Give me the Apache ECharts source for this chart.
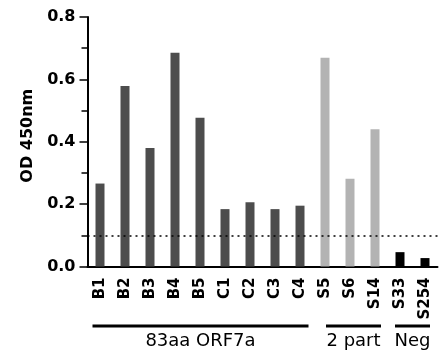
<!DOCTYPE html>
<html>
<head>
<meta charset="utf-8">
<script src="https://cdn.jsdelivr.net/npm/echarts@6/dist/echarts.min.js"></script>
<style>
  html, body { margin: 0; padding: 0; background: #fff; }
  #chart { width: 443px; height: 358px; }
</style>
</head>
<body>
<div id="chart"></div>
<script>
// samples on the x axis
const categories = ["B1", "B2", "B3", "B4", "B5", "C1", "C2", "C3", "C4", "S5", "S6", "S14", "S33", "S254"];
// OD 450nm
const odValues = [0.266, 0.579, 0.380, 0.685, 0.477, 0.184, 0.206, 0.184, 0.195, 0.669, 0.281, 0.440, 0.046, 0.027];
// which group each sample belongs to (0 = 83aa ORF7a, 1 = 2 part, 2 = Neg)
const sampleGroup = [0, 0, 0, 0, 0, 0, 0, 0, 0, 1, 1, 1, 2, 2];
const groupLabels = ["83aa ORF7a", "2 part", "Neg"];
const yTicks = [0, 0.2, 0.4, 0.6, 0.8];
const cutoff = 0.1;

const groupColors = ["#4d4d4d", "#b3b3b3", "#000000"];
const fontName = "DejaVu Sans";

const chart = echarts.init(document.getElementById("chart"));

const option = {
  animation: false,
  grid: { left: 87.5, right: 5.5, top: 17, bottom: 91.5, containLabel: false },
  xAxis: {
    type: "category",
    data: categories,
    axisLine: { lineStyle: { color: "#000", width: 2 } },
    axisTick: { alignWithLabel: true, length: 5, lineStyle: { color: "#000", width: 1.5 } },
    axisLabel: {
      rotate: 90,
      interval: 0,
      margin: 11,
      color: "#000",
      fontFamily: fontName,
      fontWeight: "bold",
      fontSize: 15,
    },
  },
  yAxis: {
    type: "value",
    min: yTicks[0],
    max: yTicks[yTicks.length - 1],
    interval: 0.2,
    name: "OD 450nm",
    nameLocation: "middle",
    nameGap: 52,
    nameTextStyle: { color: "#000", fontFamily: fontName, fontWeight: "bold", fontSize: 16, padding: [0, 0, 0, 12] },
    axisLine: { show: true, lineStyle: { color: "#000", width: 2 } },
    axisTick: { show: true, length: 8, lineStyle: { color: "#000", width: 1.5 } },
    minorTick: { show: true, splitNumber: 2, length: 6, lineStyle: { color: "#000", width: 1.5 } },
    splitLine: { show: false },
    axisLabel: {
      margin: 12,
      color: "#000",
      fontFamily: fontName,
      fontWeight: "bold",
      fontSize: 16,
      formatter: (v) => v.toFixed(1),
    },
  },
  series: [
    {
      type: "bar",
      barWidth: 9,
      data: odValues.map((v, i) => ({ value: v, itemStyle: { color: groupColors[sampleGroup[i]] } })),
      markLine: {
        silent: true,
        symbol: "none",
        label: { show: false },
        lineStyle: { color: "#000", type: [2, 4], width: 1.5 },
        data: [{ yAxis: cutoff }],
      },
    },
  ],
};

chart.setOption(option);

// group bars and labels under the axis, placed from the category scale
const groupPad = [[-7.5, 8.5], [1, 6], [-5, 5]];
const lineY = 326;
const textY = 341;
const graphic = [];
groupLabels.forEach((label, g) => {
  const first = sampleGroup.indexOf(g);
  const last = sampleGroup.lastIndexOf(g);
  const x0 = chart.convertToPixel({ xAxisIndex: 0 }, categories[first]) + groupPad[g][0];
  const x1 = chart.convertToPixel({ xAxisIndex: 0 }, categories[last]) + groupPad[g][1];
  graphic.push({
    type: "line",
    shape: { x1: x0, y1: lineY, x2: x1, y2: lineY },
    style: { stroke: "#000", lineWidth: 3 },
  });
  graphic.push({
    type: "text",
    x: (x0 + x1) / 2,
    y: textY,
    style: {
      text: label,
      fill: "#000",
      font: "18px '" + fontName + "'",
      align: "center",
      verticalAlign: "middle",
    },
  });
});
chart.setOption({ graphic: graphic });
</script>
</body>
</html>
